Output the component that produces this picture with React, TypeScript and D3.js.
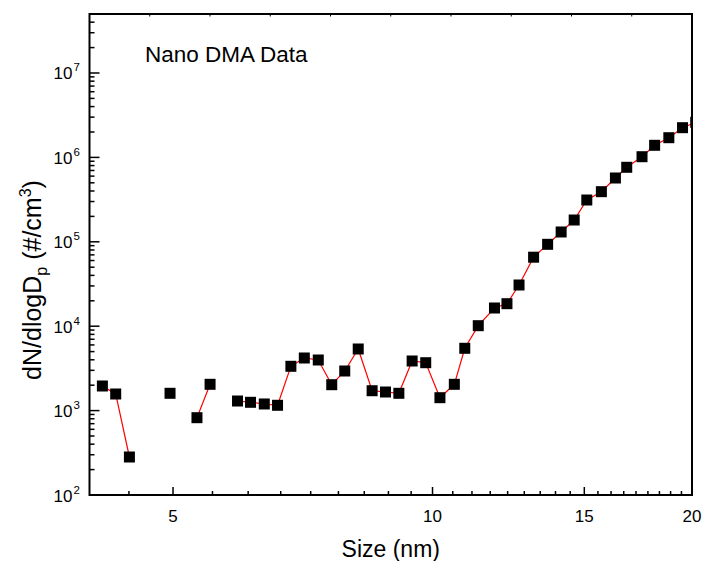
import React from "react";
import * as d3 from "d3";

// Particle size (nm), nano-DMA channel midpoints
const sizes: number[] = [
  4.14, 4.29, 4.45, 4.61, 4.78, 4.96, 5.14, 5.33, 5.52, 5.73, 5.94, 6.15, 6.38, 6.61, 6.85,
  7.1, 7.37, 7.64, 7.91, 8.2, 8.51, 8.82, 9.14, 9.47, 9.82, 10.2, 10.6, 10.9, 11.3, 11.8,
  12.2, 12.6, 13.1, 13.6, 14.1, 14.6, 15.1, 15.7, 16.3, 16.8, 17.5, 18.1, 18.8, 19.5, 20.2,
];
// dN/dlogDp (#/cm3); null = no data in that channel
const concentration: (number | null)[] = [
  1957, 1573, 282, null, null, 1603, null, 824, 2049, null, 1299, 1254, 1198, 1156, 3349,
  4200, 3977, 2027, 2946, 5370, 1720, 1661, 1603, 3870, 3694, 1422, 2049, 5472, 10140, 16430,
  18480, 30770, 65700, 93350, 130700, 181200, 312700, 392500, 570000, 763500, 1019000, 1391000, 1711000, 2249000, 2606000,
];
const xMajorTicks = [5, 10, 15, 20];
const yMajorExponents = [2, 3, 4, 5, 6, 7];
const title = "Nano DMA Data";

const W = 703;
const H = 561;
const left = 89.5;
const right = 692;
const top = 14;
const bottom = 495;

export default function App() {
  const x = d3.scaleLog().domain([4, 20]).range([left, right]);
  const y = d3.scaleLog().domain([100, 5e7]).range([bottom, top]);

  const points = sizes.map((s, i) => ({ s, c: concentration[i] }));
  const line = d3
    .line<{ s: number; c: number | null }>()
    .defined((d) => d.c !== null)
    .x((d) => x(d.s))
    .y((d) => y(d.c as number));

  // x minor ticks: 8 evenly spaced values between majors (step 5/9)
  const xMinor: number[] = [];
  const bounds = [0, 5, 10, 15, 20];
  for (let b = 0; b < bounds.length - 1; b++) {
    for (let k = 1; k <= 8; k++) {
      const v = bounds[b] + ((bounds[b + 1] - bounds[b]) * k) / 9;
      if (v > 4 && v < 20) xMinor.push(v);
    }
  }
  const yMinor: number[] = [];
  for (let e = 2; e <= 7; e++) {
    for (let m = 2; m <= 9; m++) {
      const v = m * Math.pow(10, e);
      if (v < 5e7) yMinor.push(v);
    }
  }
  const topTicks = d3.scaleLinear().domain([0, 10]).range([left, right]);

  const font = "'Liberation Sans', Arial, Helvetica, sans-serif";
  const ms = 11;

  return (
    <svg
      width={W}
      height={H}
      style={{ position: "absolute", left: 0, top: 0, background: "#fff" }}
      fontFamily={font}
    >
      <defs>
        <clipPath id="plot">
          <rect x={left} y={top} width={right - left} height={bottom - top} />
        </clipPath>
      </defs>
      <rect x={0} y={0} width={W} height={H} fill="#fff" />

      {/* data */}
      <g clipPath="url(#plot)">
        <path d={line(points) || ""} fill="none" stroke="#ff0000" strokeWidth={1.2} />
        {points
          .filter((d) => d.c !== null)
          .map((d, i) => (
            <rect
              key={i}
              x={x(d.s) - ms / 2}
              y={y(d.c as number) - ms / 2}
              width={ms}
              height={ms}
              fill="#000"
            />
          ))}
      </g>

      {/* frame */}
      <rect x={left} y={top} width={right - left} height={bottom - top} fill="none" stroke="#000" strokeWidth={2} />

      {/* top axis small ticks */}
      {d3.range(1, 10).map((k) => (
        <line key={"t" + k} x1={topTicks(k)} x2={topTicks(k)} y1={top} y2={top + 2.5} stroke="#000" strokeWidth={1} />
      ))}

      {/* x ticks */}
      {xMinor.map((v) => (
        <line key={"xm" + v} x1={x(v)} x2={x(v)} y1={bottom} y2={bottom - 4} stroke="#000" strokeWidth={1.5} />
      ))}
      {xMajorTicks.map((v) => (
        <g key={"xM" + v}>
          <line x1={x(v)} x2={x(v)} y1={bottom} y2={bottom - 8} stroke="#000" strokeWidth={1.5} />
          <text x={x(v)} y={521.5} textAnchor="middle" fontSize={17}>
            {v}
          </text>
        </g>
      ))}

      {/* y ticks */}
      {yMinor.map((v) => (
        <line key={"ym" + v} x1={left} x2={left + 5} y1={y(v)} y2={y(v)} stroke="#000" strokeWidth={1.5} />
      ))}
      {yMajorExponents.map((e) => {
        const v = Math.pow(10, e);
        return (
          <g key={"yM" + e}>
            <line x1={left} x2={left + 10} y1={y(v)} y2={y(v)} stroke="#000" strokeWidth={1.5} />
            <text x={72.5} y={y(v) + 6.5} textAnchor="end" fontSize={17}>
              10
            </text>
            <text x={73.5} y={y(v) - 1.5} textAnchor="start" fontSize={11.5}>
              {e}
            </text>
          </g>
        );
      })}

      {/* axis titles */}
      <text x={(left + right) / 2} y={557} textAnchor="middle" fontSize={23}>
        Size (nm)
      </text>
      <text transform={`translate(41, ${280}) rotate(-90)`} textAnchor="middle" fontSize={25}>
        dN/dlogD
        <tspan fontSize={16} dy={6}>p</tspan>
        <tspan dy={-6}> (#/cm</tspan>
        <tspan fontSize={16} dy={-10}>3</tspan>
        <tspan dy={10}>)</tspan>
      </text>

      {/* annotation */}
      <text x={145} y={62} fontSize={22.5}>
        {title}
      </text>
    </svg>
  );
}
